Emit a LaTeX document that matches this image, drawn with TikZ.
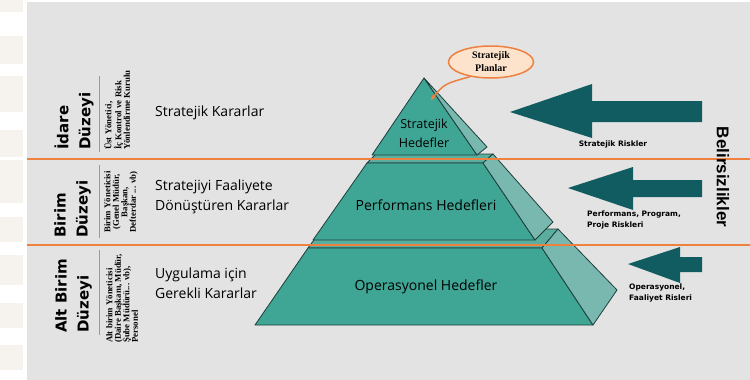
\documentclass[tikz,border=0pt]{standalone}
\usepackage{fontspec}
\setmainfont{Open Sans}
\newfontfamily\levelfont{DejaVu Sans}
\newfontfamily\rolefont{Liberation Serif}
\newfontfamily\riskfont{DejaVu Sans}
\newfontfamily\edgefont{Liberation Sans}
\usetikzlibrary{arrows.meta,shapes.geometric}
\definecolor{bggray}{HTML}{E3E3E3}
\definecolor{lineorange}{HTML}{EE8040}
\definecolor{tealfront}{HTML}{3FA595}
\definecolor{tealside}{HTML}{78B8AE}
\definecolor{tealtop}{HTML}{5AAE9F}
\definecolor{tealedge}{HTML}{1E3E3A}
\definecolor{arrowteal}{HTML}{105C61}
\definecolor{calloutfill}{HTML}{FDE3CC}
\definecolor{stripbeige}{HTML}{F6F3EE}

\begin{document}
\begin{tikzpicture}[x=1pt,y=-1pt,
  face/.style={draw=tealedge,line width=0.8pt,line join=round},
  level/.style={rotate=90,anchor=west,inner sep=0pt,align=left,font=\levelfont\bfseries\fontsize{15}{22}\selectfont},
  role/.style={rotate=90,anchor=west,inner sep=0pt,align=left,font=\rolefont\bfseries\fontsize{8.8}{8.5}\selectfont},
  decision/.style={anchor=west,inner sep=0pt,align=left,font=\fontsize{14}{20}\selectfont},
  goal/.style={align=center,inner sep=0pt,text=black,font=\fontsize{14}{19}\selectfont},
  risk/.style={inner sep=0pt,align=left,font=\riskfont\bfseries\fontsize{7.5}{11}\selectfont},
  riskarrow/.style={fill=arrowteal},
  divider/.style={draw=lineorange,line width=2.5pt},
  tick/.style={draw=lineorange,line width=1.2pt}]
\useasboundingbox (0,0) rectangle (750,380);
\fill[white] (0,0) rectangle (27,380);
\foreach \ya/\yb in {0/12,36/64,76/112,130/157,160/203,217/242,255/285,303/328,345/370}
  \fill[stripbeige] (0,\ya) rectangle (23,\yb);
\fill[bggray] (27,2) rectangle (750,380);

% pyramid
\filldraw[face,fill=tealtop] (308,248) -- (542,248) -- (558,229) -- (322,229) -- cycle;
\filldraw[face,fill=tealfront] (308,248) -- (542,248) -- (593,325) -- (255,325) -- cycle;
\filldraw[face,fill=tealside] (542,248) -- (558,229) -- (617,290) -- (593,325) -- cycle;
\filldraw[face,fill=tealtop] (367,163) -- (483,163) -- (493,154) -- (376,154) -- cycle;
\filldraw[face,fill=tealfront] (367,163) -- (483,163) -- (535,240) -- (313,240) -- cycle;
\filldraw[face,fill=tealside] (483,163) -- (493,154) -- (553,222) -- (535,240) -- cycle;
\filldraw[face,fill=tealfront] (424,78) -- (477,155) -- (372,155) -- cycle;
\filldraw[face,fill=tealside] (424,78) -- (487,147) -- (477,155) -- cycle;

\node[goal,font=\fontsize{12.5}{19}\selectfont] (topgoal) at (424,133) {Stratejik\\Hedefler};
\node[goal] (midgoal) at (426,205) {Performans Hedefleri};
\node[goal] (lowgoal) at (426,287) {Operasyonel Hedefler};

% levels
\draw[divider] (27,159) -- (750,159);
\draw[divider] (27,245) -- (750,245);
\draw[tick] (99.5,76) -- (99.5,152);
\draw[tick] (99.5,165) -- (99.5,238);
\draw[tick] (99.5,250) -- (99.5,335);

\node[level] (idare) at (74,150) {İdare\\Düzeyi};
\node[level] (birim) at (72.5,238) {Birim\\Düzeyi};
\node[level] (altbirim) at (73.5,333) {Alt Birim\\Düzeyi};
\node[role] (idarerole) at (117,150) {Üst Yönetici,\\İç Kontrol ve Risk\\Yönlendirme Kurulu};
\node[role,anchor=center,align=center] (birimrole) at (121,202) {Birim Yöneticisi\\(Genel Müdür,\\Başkan,\\Defterdar ... vb)};
\node[role] (altrole) at (122,343) {Alt birim Yöneticisi\\(Daire Başkanı, Müdür,\\Şube Müdürü... vb),\\Personel};

\node[decision] (topdec) at (155,113) {Stratejik Kararlar};
\node[decision] (middec) at (155,197) {Stratejiyi Faaliyete\\Dönüştüren Kararlar};
\node[decision] (lowdec) at (155,283) {Uygulama için\\Gerekli Kararlar};

% risks
\fill[riskarrow] (510,112) -- (592,84) -- (592,101) -- (702,101) -- (702,122) -- (592,122) -- (592,138) -- cycle;
\fill[riskarrow] (568,188) -- (633,167) -- (633,180) -- (702,180) -- (702,197) -- (633,197) -- (633,210) -- cycle;
\fill[riskarrow] (628,264) -- (680,247) -- (680,257) -- (702,257) -- (702,272) -- (680,272) -- (680,283) -- cycle;
\node[risk] (toprisk) at (613,144) {Stratejik Riskler};
\node[risk,anchor=north west] (midrisk) at (587,211) {Performans, Program,\\Proje Riskleri};
\node[risk,anchor=north west] (lowrisk) at (629,284) {Operasyonel,\\Faaliyet Risleri};
\node[rotate=-90,inner sep=0pt,font=\edgefont\bfseries\fontsize{17}{20}\selectfont] (uncert) at (723,177) {Belirsizlikler};

% callout
\node[ellipse,draw=lineorange,fill=calloutfill,line width=1.5pt,minimum width=85pt,minimum height=32pt,inner sep=0pt,align=center,font=\rolefont\bfseries\fontsize{10}{13}\selectfont] (plans) at (491,62) {Stratejik\\Planlar};
\draw[lineorange,line width=1.5pt,-{Stealth[length=5pt,width=5pt]}] (plans.215) .. controls (444,84) .. (431,100);
\end{tikzpicture}
\end{document}
